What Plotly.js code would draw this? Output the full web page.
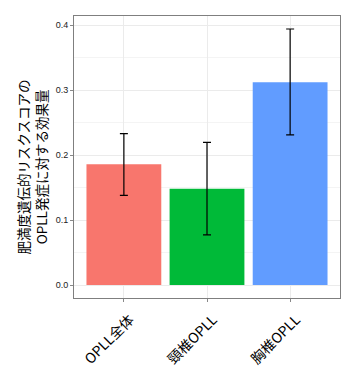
<!DOCTYPE html>
<html><head><meta charset="utf-8">
<script src="https://cdn.plot.ly/plotly-3.0.1.min.js"></script>
<style>html,body{margin:0;padding:0;background:#fff}#chart{width:356px;height:368px}</style>
</head><body><div id="chart"></div>
<script>
const categories = ["OPLL全体", "頸椎OPLL", "胸椎OPLL"];
const effect = [0.186, 0.148, 0.312];
const upper = [0.233, 0.2195, 0.394];
const lower = [0.138, 0.077, 0.231];
const colors = ["#F8766D", "#00BA38", "#619CFF"];
const yTitle = "肥満度遺伝的リスクスコアの<br>OPLL発症に対する効果量";

const trace = {
  type: "bar",
  x: categories,
  y: effect,
  width: 0.9,
  marker: {color: colors, line: {width: 0}},
  error_y: {
    type: "data", symmetric: false,
    array: upper.map((u, i) => u - effect[i]),
    arrayminus: effect.map((e, i) => e - lower[i]),
    color: "#000", thickness: 1.2, width: 4
  },
  hoverinfo: "none"
};
const font = "'Liberation Sans', Arial, 'Noto Sans CJK JP', sans-serif";
const cjk = "'Noto Sans CJK JP', sans-serif";
const layout = {
  width: 356, height: 368,
  margin: {l: 74, r: 16, t: 16, b: 70},
  paper_bgcolor: "#fff", plot_bgcolor: "#fff",
  showlegend: false,
  font: {family: font, color: "#000"},
  xaxis: {
    range: [-0.6, 2.6],
    tickangle: -45,
    tickfont: {size: 14, family: cjk, color: "#000"},
    ticklabelshift: 6, ticklabelstandoff: 4,
    showgrid: true, gridcolor: "#ebebeb", gridwidth: 1,
    ticks: "outside", ticklen: 3, tickcolor: "#888",
    showline: true, linecolor: "#7f7f7f", linewidth: 1, mirror: true,
    zeroline: false
  },
  yaxis: {
    range: [-0.02, 0.414],
    tickvals: [0, 0.1, 0.2, 0.3, 0.4],
    ticktext: ["0.0", "0.1", "0.2", "0.3", "0.4"],
    tickfont: {size: 9, color: "#222"},
    showgrid: true, gridcolor: "#ebebeb", gridwidth: 1,
    minor: {dtick: 0.05, tick0: 0, showgrid: true, gridcolor: "#f4f4f4", gridwidth: 1, ticks: ""},
    ticks: "outside", ticklen: 3, tickcolor: "#888",
    showline: true, linecolor: "#7f7f7f", linewidth: 1, mirror: true,
    zeroline: false
  },
  annotations: [{
    text: yTitle, textangle: -90, showarrow: false,
    xref: "paper", yref: "paper", x: -0.156, y: 0.4645,
    xanchor: "center", yanchor: "middle",
    font: {size: 13.5, family: cjk, color: "#000"}
  }]
};
Plotly.newPlot("chart", [trace], layout, {staticPlot: true, displayModeBar: false});
</script></body></html>
